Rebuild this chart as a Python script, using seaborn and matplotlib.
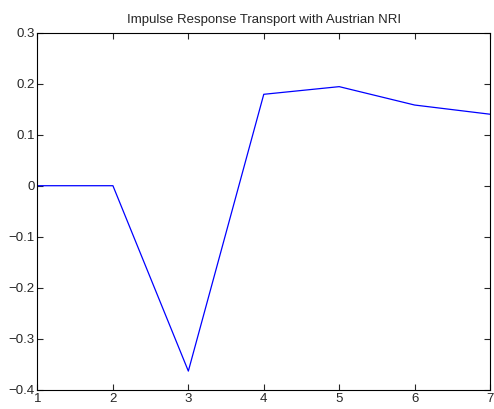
import matplotlib
matplotlib.use("Agg")
import matplotlib.pyplot as plt
import seaborn as sns
import pandas as pd

periods = [1, 2, 3, 4, 5, 6, 7]
response = [0.0, 0.0, -0.363, 0.179, 0.194, 0.158, 0.140]
x_ticks = [1, 2, 3, 4, 5, 6, 7]
y_ticks = [-0.4, -0.3, -0.2, -0.1, 0, 0.1, 0.2, 0.3]
y_tick_labels = ["\u22120.4", "\u22120.3", "\u22120.2", "\u22120.1", "0", "0.1", "0.2", "0.3"]

sns.set_style("ticks")
plt.rcParams["font.family"] = ["Liberation Sans", "DejaVu Sans"]
plt.rcParams["font.size"] = 9.5

df = pd.DataFrame({"period": periods, "response": response})

fig = plt.figure(figsize=(4.94, 4.09), dpi=100)
ax = fig.add_axes([0.0759, 0.0465, 0.9161, 0.874])
sns.lineplot(data=df, x="period", y="response", color="#0000ff", linewidth=0.9, ax=ax)

ax.set_xlim(1, 7)
ax.set_ylim(-0.4, 0.3)
ax.set_xticks(x_ticks)
ax.set_xticklabels([str(t) for t in x_ticks])
ax.set_yticks(y_ticks)
ax.set_yticklabels(y_tick_labels)
ax.set_xlabel("")
ax.set_ylabel("")
ax.tick_params(direction="in", length=4.5, width=0.8, top=True, right=True, labelsize=9.5, pad=2)
for side in ax.spines.values():
    side.set_visible(True)
    side.set_linewidth(0.8)
    side.set_color("black")
ax.set_title("Impulse Response Transport with Austrian NRI", fontsize=9.5, pad=7)

fig.savefig("out.png", dpi=100)
